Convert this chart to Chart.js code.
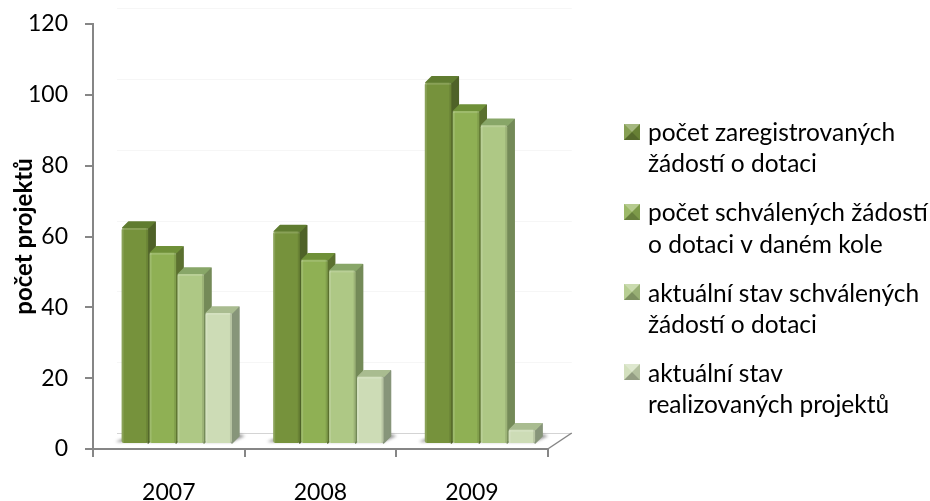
<!DOCTYPE html>
<html>
<head>
<meta charset="utf-8">
<style>
  body { margin: 0; background: #fff; }
</style>
<script src="https://cdn.jsdelivr.net/npm/chart.js@4"></script>
</head>
<body>
<canvas id="mainChart" width="930" height="501"></canvas>
<script>
const years = ["2007", "2008", "2009"];
const registered = [61, 60, 102];
const approved = [54, 52, 94];
const currentApproved = [48, 49, 90];
const realized = [37, 19, 4];
const seriesNames = [
    ["počet zaregistrovaných", "žádostí o dotaci"],
    ["počet schválených žádostí", "o dotaci v daném kole"],
    ["aktuální stav schválených", "žádostí o dotaci"],
    ["aktuální stav", "realizovaných projektů"]
];

const frontColors = ["#76923c", "#8fb054", "#aec885", "#cddcb6"];
const sideColors = ["#4f6228", "#5b7030", "#748a58", "#87957a"];
const topColors = ["#607c30", "#6f9038", "#88a668", "#a9bc90"];
const axisColor = "#868686";
const fontName = "Lato, Carlito, sans-serif";

const shiftX = 8, shiftY = -5;  // bars stand in the middle of the floor
const depth = 7;                // bar extrusion
const floorX = 24, floorY = 16; // floor depth
const legendTextX = 648, legendTop = 103, legendPad = 18;
const legendFontSize = 24.5;
const swatchTops = [124, 204, 284, 364];

function poly(ctx, pts, fill) {
    ctx.fillStyle = fill;
    ctx.strokeStyle = fill;
    ctx.lineWidth = 1.5;
    ctx.lineJoin = "round";
    ctx.beginPath();
    pts.forEach(function (p, i) {
        if (i === 0) ctx.moveTo(p[0], p[1]); else ctx.lineTo(p[0], p[1]);
    });
    ctx.closePath();
    ctx.fill();
    ctx.stroke();
}

function tri(ctx, pts, fill) {
    ctx.fillStyle = fill;
    ctx.beginPath();
    ctx.moveTo(pts[0][0], pts[0][1]);
    ctx.lineTo(pts[1][0], pts[1][1]);
    ctx.lineTo(pts[2][0], pts[2][1]);
    ctx.closePath();
    ctx.fill();
}

// floor, shadows and the 3D sides of the bars
const fake3d = {
    id: "fake3d",
    afterLayout(chart) {
        // the legend sits apart from the plot, as in the original
        const lg = chart.legend;
        lg.left = legendTextX - legendPad - 14 - legendFontSize / 2;
        lg.right = 930;
        lg.top = legendTop;
        lg.bottom = 501;
    },
    beforeDatasetsDraw(chart) {
        const ctx = chart.ctx;
        const area = chart.chartArea;
        const yScale = chart.scales.y;

        ctx.save();
        ctx.lineWidth = 1;
        ctx.strokeStyle = "#f6f6f6";
        yScale.ticks.forEach(function (t) {
            if (t.value === 0) return;
            const y = Math.round(yScale.getPixelForValue(t.value) - floorY) + 0.5;
            ctx.beginPath();
            ctx.moveTo(area.left + floorX, y);
            ctx.lineTo(area.right + floorX, y);
            ctx.stroke();
        });
        ctx.strokeStyle = "#d4d4d4";
        ctx.beginPath();
        ctx.moveTo(area.left + floorX, area.bottom - floorY + 0.5);
        ctx.lineTo(area.right + floorX, area.bottom - floorY + 0.5);
        ctx.stroke();
        ctx.strokeStyle = axisColor;
        ctx.lineWidth = 1.5;
        ctx.beginPath();
        ctx.moveTo(area.right, area.bottom);
        ctx.lineTo(area.right + floorX, area.bottom - floorY);
        ctx.stroke();
        ctx.restore();

        ctx.save();
        ctx.translate(shiftX, shiftY);

        // soft shadow under each group
        ctx.save();
        ctx.filter = "blur(1.5px)";
        ctx.fillStyle = "rgba(70,70,70,0.55)";
        years.forEach(function (y, i) {
            const first = chart.getDatasetMeta(0).data[i];
            const last = chart.getDatasetMeta(3).data[i];
            const b = first.base;
            const l = first.x - first.width / 2, r = last.x + last.width / 2;
            ctx.beginPath();
            ctx.moveTo(l - 6, b - 1);
            ctx.lineTo(r, b - 1);
            ctx.lineTo(r + 13, b - 7);
            ctx.lineTo(r + 7, b - 9);
            ctx.lineTo(l, b - 4);
            ctx.closePath();
            ctx.fill();
        });
        ctx.restore();

        for (let i = 0; i < 4; i++) {
            chart.getDatasetMeta(i).data.forEach(function (bar) {
                const l = bar.x - bar.width / 2, r = bar.x + bar.width / 2;
                poly(ctx, [[r, bar.y + 1], [r + depth, bar.y - depth + 1], [r + depth, bar.base - depth], [r, bar.base]], sideColors[i]);
                poly(ctx, [[l + 1, bar.y], [l + depth, bar.y - depth + 1], [r + depth - 1, bar.y - depth + 1], [r, bar.y]], topColors[i]);
            });
        }
    },
    afterDatasetsDraw(chart) {
        const ctx = chart.ctx;
        chart.getSortedVisibleDatasetMetas().forEach(function (meta) {
            meta.data.forEach(function (bar) {
                const l = bar.x - bar.width / 2, r = bar.x + bar.width / 2;
                ctx.fillStyle = "rgba(255,255,255,0.14)";
                ctx.fillRect(l, bar.y, 2, bar.base - bar.y);
                ctx.fillRect(l, bar.y, bar.width, 2);
                ctx.fillStyle = "rgba(0,0,0,0.1)";
                ctx.fillRect(r - 2, bar.y, 2, bar.base - bar.y);
            });
        });
        ctx.restore();
    },
    afterDraw(chart) {
        // bevel on the legend swatches, lined up with the first text line
        const ctx = chart.ctx;
        const s = 16, x = legendTextX - 24;
        chart.legend.legendItems.forEach(function (item, i) {
            const y = swatchTops[i];
            const c = [x + s / 2, y + s / 2];
            ctx.fillStyle = frontColors[i];
            ctx.fillRect(x, y, s, s);
            tri(ctx, [[x, y], [x + s, y], c], "rgba(255,255,255,0.35)");
            tri(ctx, [[x, y], [x, y + s], c], "rgba(255,255,255,0.12)");
            tri(ctx, [[x + s, y], [x + s, y + s], c], "rgba(0,0,0,0.12)");
            tri(ctx, [[x, y + s], [x + s, y + s], c], "rgba(0,0,0,0.28)");
        });
    }
};

new Chart(document.getElementById("mainChart"), {
    type: "bar",
    plugins: [fake3d],
    data: {
        labels: years,
        datasets: [
            { label: seriesNames[0], data: registered, backgroundColor: frontColors[0] },
            { label: seriesNames[1], data: approved, backgroundColor: frontColors[1] },
            { label: seriesNames[2], data: currentApproved, backgroundColor: frontColors[2] },
            { label: seriesNames[3], data: realized, backgroundColor: frontColors[3] }
        ]
    },
    options: {
        responsive: false,
        animation: false,
        devicePixelRatio: 1,
        layout: { padding: { left: 10, top: 24, right: 203, bottom: 0 } },
        datasets: {
            bar: {
                categoryPercentage: 0.737,
                barPercentage: 0.95,
                borderRadius: 2,
                borderSkipped: false,
                clip: false
            }
        },
        plugins: {
            title: { display: false },
            tooltip: { enabled: false },
            legend: {
                position: "right",
                align: "start",
                labels: {
                    color: "#000",
                    boxWidth: 14,
                    boxHeight: 14,
                    padding: legendPad,
                    font: { family: fontName, size: legendFontSize, lineHeight: 1.27 },
                    generateLabels: function (chart) {
                        return seriesNames.map(function (text, i) {
                            return { text: text, datasetIndex: i, fontColor: "#000", fillStyle: "rgba(0,0,0,0)", strokeStyle: "rgba(0,0,0,0)", lineWidth: 0 };
                        });
                    }
                }
            }
        },
        scales: {
            x: {
                border: { color: axisColor, width: 2 },
                grid: { display: true, offset: true, drawOnChartArea: false, color: axisColor, tickColor: axisColor, tickLength: 8, lineWidth: 2 },
                ticks: { color: "#000", padding: 22, font: { family: fontName, size: 23 } },
                afterFit: function (s) { s.height = 52; }
            },
            y: {
                min: 0,
                max: 120,
                border: { color: axisColor, width: 2 },
                grid: { drawOnChartArea: false, color: axisColor, tickColor: axisColor, tickLength: 8, lineWidth: 2 },
                ticks: { stepSize: 20, color: "#000", padding: 17, font: { family: fontName, size: 23 } },
                title: {
                    display: true,
                    text: "počet projektů",
                    color: "#000",
                    padding: 0,
                    font: { family: fontName, size: 24, weight: "bold" }
                },
                afterFit: function (s) { s.width = 83; s.paddingTop = 0; }
            }
        }
    }
});
</script>
</body>
</html>
